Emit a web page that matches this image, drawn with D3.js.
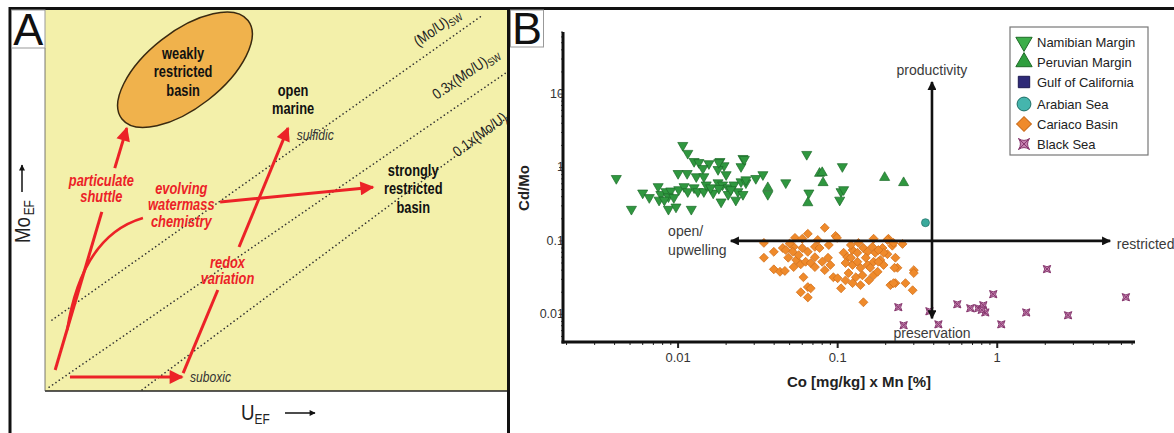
<!DOCTYPE html>
<html>
<head>
<meta charset="utf-8">
<script src="https://cdn.jsdelivr.net/npm/d3@7"></script>
<style>
  body { margin: 0; background: #fff; }
  svg { display: block; }
</style>
</head>
<body>
<div id="chart"></div>
<script>
const width = 1174, height = 433;

// ---------- panel A: schematic, in arbitrary U_EF / Mo_EF units (0-100) ----------
const refLines = [
  { label: "(Mo/U)", sub: "sw", from: [1.5, 18.6], to: [94.8, 98.7], at: [80.8, 90.3] },
  { label: "0.3x(Mo/U)", sub: "sw", from: [0.9, 1.0], to: [100, 83.7], at: [84.8, 76.4] },
  { label: "0.1x(Mo/U)", sub: "sw", from: [21.0, 0.3], to: [100, 71.7], at: [89.3, 61.3] }
];
const redArrows = [
  { pts: [[2.2, 5.5], [12.3, 47.0]], head: false },   // particulate shuttle (below label)
  { pts: [[15.1, 58.5], [17.7, 69.0]], head: true },  // particulate shuttle (above label)
  { pts: [[29.9, 4.7], [37.4, 26.5]], head: false },  // redox variation (below label)
  { pts: [[42.0, 37.8], [52.6, 69.0]], head: true },  // redox variation (above label)
  { pts: [[37.9, 49.6], [71.0, 53.5]], head: true },  // evolving watermass chemistry
  { pts: [[5.4, 3.7], [29.7, 3.7]], head: true }      // to suboxic
];
const evolvingCurve = [[4.8, 16.0], [6.5, 29.1], [10.8, 41.7], [21.2, 45.4]];
const basinEllipse = { at: [30.3, 84.3] };
const blackLabels = [
  { lines: ["weakly", "restricted", "basin"], at: [29.9, 88.7] },
  { lines: ["open", "marine"], at: [53.7, 79.0] },
  { lines: ["strongly", "restricted", "basin"], at: [79.7, 58.0] }
];
const redLabels = [
  { lines: ["particulate", "shuttle"], at: [12.2, 55.4] },
  { lines: ["evolving", "watermass", "chemistry"], at: [29.5, 53.3] },
  { lines: ["redox", "variation"], at: [39.5, 33.9] }
];
const stateLabels = [
  { text: "sulfidic", at: [54.5, 67.2] },
  { text: "suboxic", at: [31.4, 3.7] }
];

// ---------- panel B: Cd/Mo vs Co x Mn (log-log) ----------
const namibian = [
  [0.0041, 0.71], [0.0107, 2.0], [0.0115, 1.56], [0.0126, 1.21], [0.0135, 1.17], [0.0156, 1.13],
  [0.0183, 1.21], [0.0194, 1.06], [0.0255, 1.33], [0.0248, 1.03], [0.0143, 0.97], [0.010, 0.83],
  [0.0114, 0.83], [0.013, 0.75], [0.0145, 0.75], [0.0178, 0.94], [0.020, 0.80], [0.0307, 0.71],
  [0.006, 0.45], [0.0075, 0.55], [0.0078, 0.43], [0.0084, 0.47], [0.009, 0.48], [0.0087, 0.40],
  [0.0094, 0.39], [0.0076, 0.36], [0.0101, 0.50], [0.0109, 0.55], [0.0115, 0.47], [0.0126, 0.53],
  [0.0133, 0.47], [0.0145, 0.47], [0.0166, 0.45], [0.0178, 0.62], [0.019, 0.58], [0.0206, 0.53],
  [0.0224, 0.58], [0.0248, 0.64], [0.0266, 0.62], [0.0237, 0.47], [0.0255, 0.43], [0.0186, 0.34],
  [0.023, 0.36], [0.0051, 0.27], [0.0087, 0.27], [0.0097, 0.29], [0.0121, 0.27], [0.018, 0.52],
  [0.0206, 0.43], [0.018, 1.17], [0.026, 1.29], [0.034, 0.80], [0.0266, 0.68], [0.0365, 0.43],
  [0.0473, 0.62], [0.064, 1.51], [0.107, 1.03], [0.066, 0.45], [0.105, 0.47], [0.109, 0.50],
  [0.103, 0.36], [0.0066, 0.39], [0.0082, 0.36], [0.015, 0.58], [0.016, 0.53], [0.0214, 0.50]
];
const peruvian = [
  [0.0365, 0.53], [0.077, 0.83], [0.080, 0.85], [0.081, 0.62], [0.065, 0.33], [0.197, 0.73], [0.259, 0.62]
];
const gulfOfCalifornia = [];
const arabianSea = [[0.355, 0.177]];
const cariaco = [
  [0.083, 0.151], [0.065, 0.125], [0.054, 0.110], [0.060, 0.107], [0.097, 0.117], [0.099, 0.110],
  [0.168, 0.107], [0.208, 0.107], [0.255, 0.091], [0.22, 0.086], [0.0345, 0.094], [0.0345, 0.059],
  [0.0398, 0.071], [0.0453, 0.080], [0.0473, 0.075], [0.053, 0.083], [0.0523, 0.071], [0.060, 0.080],
  [0.065, 0.071], [0.072, 0.083], [0.077, 0.080], [0.072, 0.060], [0.087, 0.059], [0.055, 0.055],
  [0.0587, 0.048], [0.053, 0.044], [0.063, 0.052], [0.0678, 0.050], [0.072, 0.044], [0.0398, 0.041],
  [0.0435, 0.038], [0.0467, 0.039], [0.061, 0.032], [0.083, 0.040], [0.094, 0.032], [0.100, 0.031],
  [0.109, 0.069], [0.115, 0.060], [0.124, 0.075], [0.133, 0.069], [0.145, 0.080], [0.154, 0.071],
  [0.165, 0.083], [0.172, 0.069], [0.191, 0.080], [0.205, 0.066], [0.112, 0.050], [0.124, 0.047],
  [0.133, 0.052], [0.139, 0.043], [0.154, 0.047], [0.168, 0.052], [0.185, 0.055], [0.194, 0.047],
  [0.117, 0.0365], [0.130, 0.032], [0.143, 0.034], [0.168, 0.034], [0.178, 0.038], [0.230, 0.059],
  [0.237, 0.043], [0.124, 0.0266], [0.139, 0.025], [0.105, 0.0226], [0.065, 0.0235], [0.0678, 0.0226],
  [0.0587, 0.020], [0.065, 0.017], [0.214, 0.025], [0.230, 0.0266], [0.266, 0.0266], [0.295, 0.0213],
  [0.30, 0.040], [0.30, 0.0365], [0.145, 0.0146], [0.205, 0.103], [0.224, 0.094], [0.194, 0.069],
  [0.227, 0.043], [0.224, 0.0266], [0.050, 0.092], [0.075, 0.103], [0.088, 0.088], [0.121, 0.059],
  [0.150, 0.059], [0.160, 0.043], [0.121, 0.088], [0.135, 0.094], [0.18, 0.075], [0.08, 0.052],
  [0.09, 0.047], [0.049, 0.059], [0.057, 0.064], [0.157, 0.029], [0.18, 0.052], [0.112, 0.029]
];
const blackSea = [
  [0.240, 0.0125], [0.259, 0.0071], [0.376, 0.011], [0.428, 0.0073], [0.562, 0.0137], [0.678, 0.0121],
  [0.760, 0.0121], [0.818, 0.0133], [0.842, 0.0106], [0.944, 0.0188], [1.06, 0.0073], [1.52, 0.0106],
  [2.05, 0.0413], [2.78, 0.0097], [6.40, 0.0171], [0.80, 0.0115]
];
const seriesNames = ["Namibian Margin", "Peruvian Margin", "Gulf of California", "Arabian Sea", "Cariaco Basin", "Black Sea"];
const xTicks = [0.01, 0.1, 1];
const xTickLabels = ["0.01", "0.1", "1"];
const yTicks = [10, 1, 0.1, 0.01];
const yTickLabels = ["10", "1", "0.1", "0.01"];
// interpretive arrows, in data units: [from, to]
const hArrow = [[0.0214, 0.1], [5.1, 0.1]];
const vArrow = [[0.39, 14.6], [0.39, 0.0088]];
const bLabels = [
  { lines: ["productivity"], at: [0.39, 21.3], anchor: "middle" },
  { lines: ["open/", "upwelling"], at: [0.00866, 0.135], anchor: "start" },
  { lines: ["restricted"], at: [5.62, 0.092], anchor: "start" },
  { lines: ["preservation"], at: [0.224, 0.0055], anchor: "start" }
];

const RED = "#ec2227";
const sans = "'Liberation Sans', Arial, sans-serif";
const squeeze = 0.78; // the original uses a condensed face

const svg = d3.select("#chart")
  .append("svg")
  .attr("width", width)
  .attr("height", height)
  .style("font-family", sans);

const defs = svg.append("defs");
function marker(id, color, w, h) {
  defs.append("marker")
    .attr("id", id)
    .attr("viewBox", "0 0 10 10")
    .attr("refX", 9).attr("refY", 5)
    .attr("markerUnits", "userSpaceOnUse")
    .attr("markerWidth", w).attr("markerHeight", h)
    .attr("orient", "auto-start-reverse")
    .append("path").attr("d", "M0,0L10,5L0,10z").attr("fill", color);
}
marker("redHead", RED, 17, 14);
marker("blackHead", "#111", 11, 9);
marker("smallHead", "#111", 8, 6);

// ---------------- Panel A ----------------
const plotA = { x0: 45, x1: 507, y0: 10, y1: 391 };
const xA = d3.scaleLinear().domain([0, 100]).range([plotA.x0, plotA.x1]);
const yA = d3.scaleLinear().domain([0, 100]).range([plotA.y1, plotA.y0]);

defs.append("clipPath").attr("id", "clipA")
  .append("rect").attr("x", plotA.x0).attr("y", plotA.y0)
  .attr("width", plotA.x1 - plotA.x0).attr("height", plotA.y1 - plotA.y0);

const gA = svg.append("g");
gA.append("rect")
  .attr("x", plotA.x0).attr("y", plotA.y0)
  .attr("width", plotA.x1 - plotA.x0).attr("height", plotA.y1 - plotA.y0)
  .attr("fill", "#f3f0aa");

const inner = gA.append("g").attr("clip-path", "url(#clipA)");

// dotted Mo/U reference lines + their labels
inner.selectAll("line.ref")
  .data(refLines)
  .join("line")
  .attr("class", "ref")
  .attr("x1", d => xA(d.from[0])).attr("y1", d => yA(d.from[1]))
  .attr("x2", d => xA(d.to[0])).attr("y2", d => yA(d.to[1]))
  .attr("stroke", "#333").attr("stroke-width", 1.6)
  .attr("stroke-linecap", "round")
  .attr("stroke-dasharray", "0.1 4");

refLines.forEach(d => {
  const ang = Math.atan2(yA(d.to[1]) - yA(d.from[1]), xA(d.to[0]) - xA(d.from[0])) * 180 / Math.PI;
  const t = inner.append("text")
    .attr("transform", `translate(${xA(d.at[0])},${yA(d.at[1])}) rotate(${ang}) scale(0.85,1)`)
    .attr("font-size", 15).attr("fill", "#222")
    .text(d.label);
  t.append("tspan").attr("font-size", 10.5).attr("dy", 3).text(d.sub.toUpperCase());
});

// weakly restricted basin ellipse
gA.append("ellipse")
  .attr("cx", xA(basinEllipse.at[0])).attr("cy", yA(basinEllipse.at[1]))
  .attr("rx", 80).attr("ry", 38)
  .attr("transform", `rotate(-38 ${xA(basinEllipse.at[0])} ${yA(basinEllipse.at[1])})`)
  .attr("fill", "#f0b24c").attr("stroke", "#3a2a10").attr("stroke-width", 1.5);

// red arrows
const curve = d3.path();
curve.moveTo(xA(evolvingCurve[0][0]), yA(evolvingCurve[0][1]));
curve.bezierCurveTo(
  xA(evolvingCurve[1][0]), yA(evolvingCurve[1][1]),
  xA(evolvingCurve[2][0]), yA(evolvingCurve[2][1]),
  xA(evolvingCurve[3][0]), yA(evolvingCurve[3][1]));
gA.append("path").attr("d", curve.toString())
  .attr("fill", "none").attr("stroke", RED).attr("stroke-width", 2.6);

gA.selectAll("line.red")
  .data(redArrows)
  .join("line")
  .attr("class", "red")
  .attr("x1", d => xA(d.pts[0][0])).attr("y1", d => yA(d.pts[0][1]))
  .attr("x2", d => xA(d.pts[1][0])).attr("y2", d => yA(d.pts[1][1]))
  .attr("stroke", RED).attr("stroke-width", 3)
  .attr("marker-end", d => d.head ? "url(#redHead)" : null);

function multiline(g, d, size, gap, attrs) {
  const t = g.append("text")
    .attr("transform", `translate(${xA(d.at[0])},${yA(d.at[1])}) scale(${squeeze},1)`)
    .attr("text-anchor", "middle")
    .attr("font-size", size);
  Object.entries(attrs).forEach(([k, v]) => t.attr(k, v));
  d.lines.forEach((s, i) => {
    t.append("tspan").attr("x", 0)
      .attr("y", i * gap + size * 0.35)
      .text(s);
  });
}
blackLabels.forEach(d => multiline(gA, d, 16.5, 18.5,
  { "font-weight": "bold", fill: "#111" }));
redLabels.forEach(d => multiline(gA, d, 16.5, 16.5,
  { "font-weight": "bold", "font-style": "italic", fill: RED }));

gA.selectAll("text.state")
  .data(stateLabels)
  .join("text")
  .attr("class", "state")
  .attr("transform", d => `translate(${xA(d.at[0])},${yA(d.at[1]) + 5}) scale(${squeeze},1)`)
  .attr("font-size", 15.5)
  .attr("font-style", "italic").attr("fill", "#333")
  .text(d => d.text);

// axis titles of panel A
const moLab = gA.append("text")
  .attr("transform", "translate(30,243) rotate(-90) scale(0.85,1)")
  .attr("font-size", 22).attr("fill", "#222")
  .text("Mo");
moLab.append("tspan").attr("font-size", 14).attr("dy", 4).attr("dx", 2).text("EF");
gA.append("line").attr("x1", 22).attr("y1", 192).attr("x2", 22).attr("y2", 165)
  .attr("stroke", "#111").attr("stroke-width", 1.5).attr("marker-end", "url(#smallHead)");

const uLab = gA.append("text")
  .attr("transform", "translate(241,420) scale(0.85,1)")
  .attr("font-size", 22).attr("fill", "#222")
  .text("U");
uLab.append("tspan").attr("font-size", 14).attr("dy", 4).text("EF");
gA.append("line").attr("x1", 285).attr("y1", 413).attr("x2", 315).attr("y2", 413)
  .attr("stroke", "#111").attr("stroke-width", 1.5).attr("marker-end", "url(#smallHead)");

gA.append("line").attr("x1", plotA.x0).attr("x2", plotA.x1).attr("y1", plotA.y1).attr("y2", plotA.y1)
  .attr("stroke", "#222").attr("stroke-width", 1.5);
gA.append("line").attr("x1", plotA.x0).attr("x2", plotA.x0).attr("y1", 48).attr("y2", plotA.y1)
  .attr("stroke", "#555").attr("stroke-width", 0.8);

// ---------------- Panel B ----------------
const x = d3.scaleLog().domain([0.0019, 7.3]).range([563, 1135]);
const y = d3.scaleLog().domain([0.0042, 70]).range([342, 32]);
const gB = svg.append("g");

// tick labels (the axis line sits partly over the y labels, as in the original)
gB.selectAll("text.ytl")
  .data(yTicks)
  .join("text")
  .attr("class", "ytl")
  .attr("x", 564).attr("y", d => y(d) + 4)
  .attr("text-anchor", "end").attr("font-size", 12.5).attr("fill", "#333")
  .text((d, i) => yTickLabels[i]);
gB.selectAll("text.xtl")
  .data(xTicks)
  .join("text")
  .attr("class", "xtl")
  .attr("x", d => x(d)).attr("y", 362)
  .attr("text-anchor", "middle").attr("font-size", 13).attr("fill", "#333")
  .text((d, i) => xTickLabels[i]);

const xMinor = x.ticks().filter(v => v >= x.domain()[0] && v <= x.domain()[1]);
gB.selectAll("line.xt")
  .data(xMinor)
  .join("line")
  .attr("x1", d => x(d)).attr("x2", d => x(d))
  .attr("y1", 342).attr("y2", d => xTicks.includes(d) ? 348 : 345)
  .attr("stroke", "#222").attr("stroke-width", d => xTicks.includes(d) ? 2 : 1);
const yMinor = y.ticks().filter(v => v >= y.domain()[0] && v <= y.domain()[1]);
gB.selectAll("line.yt")
  .data(yMinor)
  .join("line")
  .attr("y1", d => y(d)).attr("y2", d => y(d))
  .attr("x1", 563).attr("x2", d => yTicks.includes(d) ? 559 : 561)
  .attr("stroke", "#444").attr("stroke-width", 1);

gB.append("line").attr("x1", 563).attr("x2", 563).attr("y1", 32).attr("y2", 343.5)
  .attr("stroke", "#111").attr("stroke-width", 3);
gB.append("line").attr("x1", 561.5).attr("x2", 1135).attr("y1", 342).attr("y2", 342)
  .attr("stroke", "#111").attr("stroke-width", 3);

gB.append("text")
  .attr("x", 859).attr("y", 387)
  .attr("text-anchor", "middle").attr("font-size", 15).attr("font-weight", "bold").attr("fill", "#222")
  .text("Co [mg/kg] x Mn [%]");
gB.append("text")
  .attr("transform", "translate(529,188) rotate(-90)")
  .attr("text-anchor", "middle").attr("font-size", 15).attr("font-weight", "bold").attr("fill", "#222")
  .text("Cd/Mo");

// symbols
const tri = d3.symbol(d3.symbolTriangle, 44)();
const diamond = d3.symbol(d3.symbolSquare, 40)();
function bsPath(s) {
  const k = 0.3 * s;
  return `M${-s},${-s}Q0,${-k} ${s},${-s}Q${k},0 ${s},${s}Q0,${k} ${-s},${s}Q${-k},0 ${-s},${-s}Z` +
    `M${-s},${-s}L${s},${s}M${s},${-s}L${-s},${s}`;
}

gB.append("g").selectAll("path")
  .data(cariaco)
  .join("path")
  .attr("d", diamond)
  .attr("transform", d => `translate(${x(d[0])},${y(d[1])}) rotate(45)`)
  .attr("fill", "#ef8a2b").attr("stroke", "#d06d18").attr("stroke-width", 0.7);

gB.append("g").selectAll("path")
  .data(namibian)
  .join("path")
  .attr("d", tri)
  .attr("transform", d => `translate(${x(d[0])},${y(d[1])}) rotate(180)`)
  .attr("fill", "#2f973f").attr("stroke", "#1d6b2a").attr("stroke-width", 0.7);

gB.append("g").selectAll("path")
  .data(peruvian)
  .join("path")
  .attr("d", tri)
  .attr("transform", d => `translate(${x(d[0])},${y(d[1])})`)
  .attr("fill", "#2f973f").attr("stroke", "#1d6b2a").attr("stroke-width", 0.7);

gB.append("g").selectAll("rect")
  .data(gulfOfCalifornia)
  .join("rect")
  .attr("x", d => x(d[0]) - 4).attr("y", d => y(d[1]) - 4)
  .attr("width", 8).attr("height", 8)
  .attr("fill", "#2e2a78");

gB.append("g").selectAll("circle")
  .data(arabianSea)
  .join("circle")
  .attr("cx", d => x(d[0])).attr("cy", d => y(d[1])).attr("r", 4)
  .attr("fill", "#3aaa9c").attr("stroke", "#1f6f66").attr("stroke-width", 0.7);

gB.append("g").selectAll("path")
  .data(blackSea)
  .join("path")
  .attr("d", bsPath(3.6))
  .attr("transform", d => `translate(${x(d[0])},${y(d[1])})`)
  .attr("fill", "#c47fae").attr("stroke", "#87386f").attr("stroke-width", 1);

// interpretive arrows
[hArrow, vArrow].forEach(a => {
  gB.append("line")
    .attr("x1", x(a[0][0])).attr("y1", y(a[0][1]))
    .attr("x2", x(a[1][0])).attr("y2", y(a[1][1]))
    .attr("stroke", "#111").attr("stroke-width", 2.6)
    .attr("marker-start", "url(#blackHead)")
    .attr("marker-end", "url(#blackHead)");
});

bLabels.forEach(d => {
  const t = gB.append("text")
    .attr("text-anchor", d.anchor).attr("font-size", 14).attr("fill", "#3a3a3a");
  d.lines.forEach((s, i) => {
    t.append("tspan").attr("x", x(d.at[0])).attr("y", y(d.at[1]) + 5 + i * 19)
      .text(s);
  });
});

// legend
const legend = gB.append("g").attr("transform", "translate(1010,27)");
legend.append("rect").attr("width", 138).attr("height", 128)
  .attr("fill", "#fff").attr("stroke", "#777").attr("stroke-width", 1.2);
const legendSym = [
  { d: d3.symbol(d3.symbolTriangle, 115)(), rot: 180, fill: "#3cae49", stroke: "#1f6b28" },
  { d: d3.symbol(d3.symbolTriangle, 115)(), rot: 0, fill: "#2f9e3e", stroke: "#1f6b28" },
  { d: d3.symbol(d3.symbolSquare, 130)(), rot: 0, fill: "#2e2a78", stroke: "#1c1850" },
  { d: d3.symbol(d3.symbolCircle, 150)(), rot: 0, fill: "#45b5ad", stroke: "#1f6f66" },
  { d: d3.symbol(d3.symbolSquare, 110)(), rot: 45, fill: "#ef8a2b", stroke: "#c86a18" },
  { d: bsPath(5.5), rot: 0, fill: "#c47fae", stroke: "#87386f" }
];
const rows = legend.selectAll("g.row")
  .data(seriesNames)
  .join("g")
  .attr("class", "row")
  .attr("transform", (d, i) => `translate(0,${[15, 35, 55, 77, 97, 117][i]})`);
rows.append("path")
  .attr("d", (d, i) => legendSym[i].d)
  .attr("transform", (d, i) => `translate(14,0) rotate(${legendSym[i].rot})`)
  .attr("fill", (d, i) => legendSym[i].fill)
  .attr("stroke", (d, i) => legendSym[i].stroke).attr("stroke-width", 1);
rows.append("text")
  .attr("x", 27).attr("y", 5)
  .attr("font-size", 13).attr("fill", "#222")
  .text(d => d);

// frame and panel letters
const frame = svg.append("g");
frame.append("line").attr("x1", 9).attr("x2", 1174).attr("y1", 8.5).attr("y2", 8.5)
  .attr("stroke", "#111").attr("stroke-width", 3);
frame.append("line").attr("x1", 10).attr("x2", 10).attr("y1", 7).attr("y2", 433)
  .attr("stroke", "#111").attr("stroke-width", 3);
frame.append("line").attr("x1", 508.5).attr("x2", 508.5).attr("y1", 7).attr("y2", 433)
  .attr("stroke", "#111").attr("stroke-width", 3);

[["A", 11.5, 10, 33.5, 38], ["B", 510.5, 10, 33, 37]].forEach(([t, bx, by, bw, bh]) => {
  frame.append("rect").attr("x", bx).attr("y", by).attr("width", bw).attr("height", bh)
    .attr("fill", "#fff").attr("stroke", "#999").attr("stroke-width", 1);
  frame.append("text").attr("x", bx + bw / 2).attr("y", by + bh - 3)
    .attr("text-anchor", "middle").attr("font-size", 45).attr("fill", "#111")
    .text(t);
});
</script>
</body>
</html>
